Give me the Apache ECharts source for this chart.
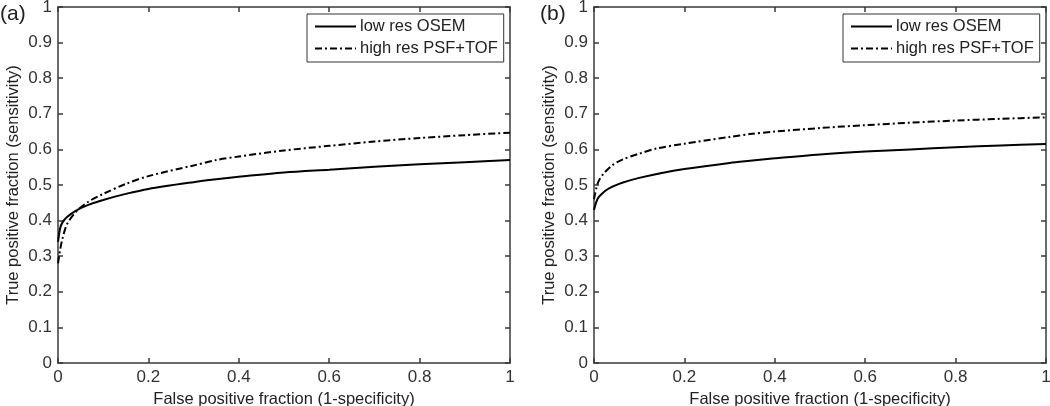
<!DOCTYPE html>
<html><head><meta charset="utf-8">
<script src="https://cdn.jsdelivr.net/npm/echarts@6/dist/echarts.min.js"></script>
<style>html,body{margin:0;padding:0;background:#fff}#c{width:1050px;height:406px}</style>
</head><body><div id="c"></div>
<script>
var seriesNames = ['low res OSEM', 'high res PSF+TOF'];
var xTicks = ['0','0.2','0.4','0.6','0.8','1'];
var yTicks = ['0','0.1','0.2','0.3','0.4','0.5','0.6','0.7','0.8','0.9','1'];

// Panel (a)
var aLowFpr  = [0, 0.005, 0.01, 0.02, 0.04, 0.067, 0.1, 0.15, 0.2, 0.3, 0.35, 0.4, 0.5, 0.6, 0.7, 0.8, 0.9, 1];
var aLowTpr  = [0.34, 0.38, 0.395, 0.41, 0.428, 0.444, 0.458, 0.475, 0.489, 0.508, 0.516, 0.523, 0.535, 0.543, 0.551, 0.558, 0.564, 0.570];
var aHighFpr = [0, 0.005, 0.01, 0.02, 0.04, 0.067, 0.1, 0.15, 0.2, 0.3, 0.35, 0.4, 0.5, 0.6, 0.7, 0.8, 0.9, 1];
var aHighTpr = [0.28, 0.32, 0.35, 0.39, 0.425, 0.453, 0.475, 0.503, 0.525, 0.555, 0.570, 0.580, 0.597, 0.610, 0.622, 0.632, 0.640, 0.647];

// Panel (b)
var bLowFpr  = [0, 0.005, 0.01, 0.02, 0.03, 0.042, 0.064, 0.1, 0.15, 0.2, 0.3, 0.345, 0.4, 0.5, 0.6, 0.7, 0.8, 0.9, 1];
var bLowTpr  = [0.43, 0.452, 0.465, 0.478, 0.488, 0.496, 0.507, 0.520, 0.534, 0.545, 0.562, 0.568, 0.575, 0.586, 0.594, 0.600, 0.606, 0.611, 0.615];
var bHighFpr = [0, 0.005, 0.01, 0.02, 0.04, 0.064, 0.1, 0.14, 0.2, 0.3, 0.345, 0.4, 0.5, 0.6, 0.7, 0.8, 0.9, 1];
var bHighTpr = [0.46, 0.49, 0.51, 0.53, 0.555, 0.572, 0.588, 0.603, 0.616, 0.635, 0.643, 0.650, 0.660, 0.668, 0.675, 0.681, 0.686, 0.690];

function pairs(xs, ys){ return xs.map(function(x,i){ return [x, ys[i]]; }); }

var FONT = 'Liberation Sans, Arial, sans-serif';
var AX = '#3a3a3a';
var grids = [
  {left: 58, top: 7, width: 452, height: 356, outerBoundsMode:'none', containLabel:false},
  {left: 594, top: 7, width: 452, height: 356, outerBoundsMode:'none', containLabel:false}
];
var xAxes = [], yAxes = [];
[0,1].forEach(function(g){
  xAxes.push({type:'value', gridIndex:g, min:0, max:1, interval:0.2, position:'bottom',
    name:'False positive fraction (1-specificity)', nameLocation:'middle', nameGap:26,
    nameTextStyle:{fontFamily:FONT, fontSize:16.5, color:'#222'},
    axisLine:{show:true, onZero:false, lineStyle:{color:AX, width:1.5}},
    axisTick:{show:true, inside:true, length:5, lineStyle:{color:AX, width:1.5}},
    axisLabel:{fontFamily:FONT, fontSize:17, color:'#333', margin:6,
      formatter:function(v){ var i=Math.round(v/0.2); return xTicks[i]; }},
    splitLine:{show:false}});
  xAxes.push({type:'value', gridIndex:g, min:0, max:1, interval:0.2, position:'top',
    axisLine:{show:true, onZero:false, lineStyle:{color:AX, width:1.5}},
    axisTick:{show:true, inside:true, length:5, lineStyle:{color:AX, width:1.5}},
    axisLabel:{show:false}, splitLine:{show:false}});
  yAxes.push({type:'value', gridIndex:g, min:0, max:1, interval:0.1, position:'left',
    name:'True positive fraction (sensitivity)', nameLocation:'middle', nameGap:36,
    nameTextStyle:{fontFamily:FONT, fontSize:16.5, color:'#222'},
    axisLine:{show:true, onZero:false, lineStyle:{color:AX, width:1.5}},
    axisTick:{show:true, inside:true, length:5, lineStyle:{color:AX, width:1.5}},
    axisLabel:{fontFamily:FONT, fontSize:17, color:'#333', margin:6,
      formatter:function(v){ var i=Math.round(v/0.1); return yTicks[i]; }},
    splitLine:{show:false}});
  yAxes.push({type:'value', gridIndex:g, min:0, max:1, interval:0.1, position:'right',
    axisLine:{show:true, onZero:false, lineStyle:{color:AX, width:1.5}},
    axisTick:{show:true, inside:true, length:5, lineStyle:{color:AX, width:1.5}},
    axisLabel:{show:false}, splitLine:{show:false}});
});

function lineSeries(name, data, g, dashed){
  return {type:'line', name:name, data:data, xAxisIndex:g*2, yAxisIndex:g*2,
    showSymbol:false, symbol:'none', smooth:0.3, animation:false,
    lineStyle:{color:'#000', width:2, type: dashed ? [7,3,2,3] : 'solid'},
    itemStyle:{color:'#000'}};
}

var legendBase = {orient:'vertical', itemWidth:41, itemHeight:10, itemGap:5,
  padding:[4,6,5,7], borderColor:'#333', borderWidth:1, backgroundColor:'#fff',
  itemStyle:{opacity:0},
  textStyle:{fontFamily:FONT, fontSize:16.5, color:'#222', padding:[0,0,0,-1]},
  data:seriesNames, selectedMode:false};

var option = {
  animation:false,
  grid: grids,
  xAxis: xAxes,
  yAxis: yAxes,
  legend: [
    Object.assign({}, legendBase, {left:307, top:14}),
    Object.assign({}, legendBase, {left:843, top:14})
  ],
  title: [
    {text:'(a)', left:-5, top:-1, textStyle:{fontFamily:FONT, fontSize:21, fontWeight:'normal', color:'#222'}},
    {text:'(b)', left:535, top:-1, textStyle:{fontFamily:FONT, fontSize:21, fontWeight:'normal', color:'#222'}}
  ],
  series: [
    lineSeries(seriesNames[0], pairs(aLowFpr, aLowTpr), 0, false),
    lineSeries(seriesNames[1], pairs(aHighFpr, aHighTpr), 0, true),
    lineSeries(seriesNames[0], pairs(bLowFpr, bLowTpr), 1, false),
    lineSeries(seriesNames[1], pairs(bHighFpr, bHighTpr), 1, true)
  ]
};
var chart = echarts.init(document.getElementById('c'), null, {renderer:'canvas'});
chart.setOption(option);
</script></body></html>
